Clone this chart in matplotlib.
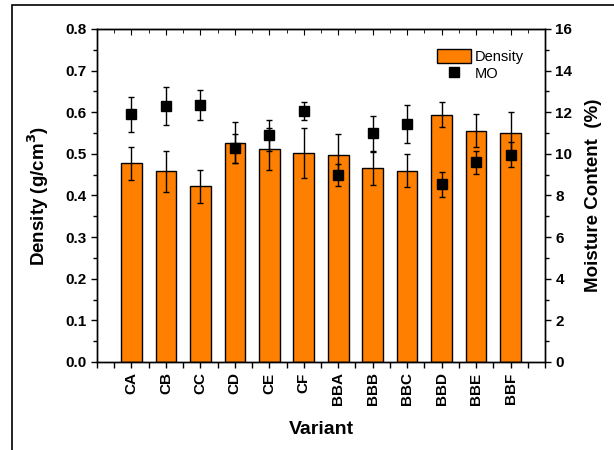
import numpy as np
import matplotlib
matplotlib.use("Agg")
import matplotlib.pyplot as plt
from matplotlib.patches import Rectangle

plt.rcParams['font.family'] = ['Liberation Sans', 'DejaVu Sans']

variants = ["CA", "CB", "CC", "CD", "CE", "CF",
            "BBA", "BBB", "BBC", "BBD", "BBE", "BBF"]

# density (g/cm3) and its error
density = [0.477, 0.458, 0.422, 0.527, 0.511, 0.501,
           0.498, 0.465, 0.460, 0.594, 0.556, 0.551]
density_err = [0.04, 0.05, 0.04, 0.05, 0.05, 0.06,
               0.05, 0.04, 0.04, 0.03, 0.04, 0.05]

# moisture content (%) and its error
mo = [11.9, 12.29, 12.35, 10.26, 10.9, 12.06,
      8.98, 10.99, 11.42, 8.53, 9.6, 9.95]
mo_err = [0.83, 0.9, 0.73, 0.68, 0.74, 0.42,
          0.53, 0.83, 0.92, 0.61, 0.56, 0.6]

x = np.arange(len(variants))

fig = plt.figure(figsize=(6.14, 4.5), dpi=100)
ax = fig.add_axes([0.158, 0.1956, 0.7296, 0.74])

# outer frame of the picture
fig.patches.append(Rectangle((0.0195, -0.2), 1.2, 1.189,
                             transform=fig.transFigure, fill=False,
                             edgecolor='black', linewidth=1.2))

ax.bar(x, density, width=0.6, color='#FF8000', edgecolor='black',
       linewidth=1.0, label='Density', zorder=2)
ax.errorbar(x, density, yerr=density_err, fmt='none', ecolor='black',
            elinewidth=1.0, capsize=2.5, capthick=1.0, zorder=3)

ax.set_xlim(-1, 12)
ax.set_ylim(0, 0.8)
ax.set_xticks(x)
ax.set_xticklabels(variants, rotation=90, fontweight='bold', fontsize=11)
ax.set_xticks(np.arange(-1, 12.5, 0.5), minor=True)
ax.set_yticks(np.arange(0, 0.81, 0.1))
ax.set_yticklabels([f"{v:.1f}" for v in np.arange(0, 0.81, 0.1)],
                   fontweight='bold', fontsize=11)
ax.set_yticks(np.arange(0, 0.81, 0.05), minor=True)
ax.tick_params(axis='both', which='major', direction='out', length=4, width=1)
ax.tick_params(axis='both', which='minor', direction='out', length=3, width=1)
ax.tick_params(axis='x', which='minor', length=4)

top = ax.secondary_xaxis('top')
top.set_xticks(x)
top.set_xticks(np.arange(-1, 12.5, 0.5), minor=True)
top.tick_params(which='major', direction='in', length=4, labeltop=False)
top.tick_params(which='minor', direction='in', length=3, labeltop=False)

ax.set_xlabel("Variant", fontweight='bold', fontsize=14, labelpad=11)
ax.set_ylabel("Density (g/cm$^\\mathbf{3}$)", fontweight='bold', fontsize=13.5,
              labelpad=10)

ax2 = ax.twinx()
ax2.errorbar(x, mo, yerr=mo_err, fmt='none', ecolor='black',
             elinewidth=1.0, capsize=2.5, capthick=1.0)
ax2.plot(x, mo, 's', color='black', markersize=6.5, linestyle='none',
         label='MO')
ax2.set_ylim(0, 16)
ax2.set_yticks(np.arange(0, 17, 2))
ax2.set_yticklabels([str(v) for v in range(0, 17, 2)],
                    fontweight='bold', fontsize=11)
ax2.set_yticks(np.arange(0, 17, 1), minor=True)
ax2.tick_params(which='major', direction='out', length=4, width=1)
ax2.tick_params(which='minor', direction='out', length=3, width=1)
ax2.set_ylabel("Moisture Content  (%)", fontweight='bold', fontsize=13.5,
               labelpad=9)

for a in (ax, ax2):
    for s in a.spines.values():
        s.set_linewidth(1.0)

h1, l1 = ax.get_legend_handles_labels()
h2, l2 = ax2.get_legend_handles_labels()
ax.legend(h1 + h2, l1 + l2, loc='upper left', bbox_to_anchor=(0.73, 0.98),
          frameon=False, fontsize=10.5, handlelength=2.3, handleheight=1.1,
          handletextpad=0.3, labelspacing=0.15)

fig.savefig("out.png", dpi=100)
